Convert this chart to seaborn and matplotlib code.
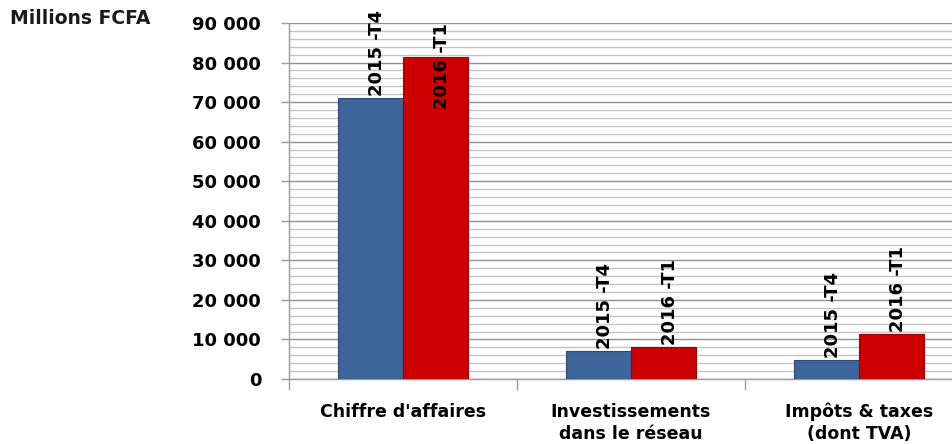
import pandas as pd
import numpy as np
import matplotlib
matplotlib.use("Agg")
import matplotlib.pyplot as plt
import seaborn as sns
from matplotlib.ticker import MultipleLocator, FuncFormatter

# Chart data (millions FCFA)
categories = ["Chiffre d'affaires", "Investissements\ndans le réseau", "Impôts & taxes\n(dont TVA)"]
periods = ["2015 -T4", "2016 -T1"]
values_2015_t4 = [71000, 7000, 4800]
values_2016_t1 = [81400, 8000, 11400]
y_ticks = [0, 10000, 20000, 30000, 40000, 50000, 60000, 70000, 80000, 90000]
unit_label = "Millions FCFA"

# long-form table for seaborn
df = pd.DataFrame({
    "categorie": categories * 2,
    "periode": [periods[0]] * 3 + [periods[1]] * 3,
    "valeur": values_2015_t4 + values_2016_t1,
})

sns.set_theme(style="white")
plt.rcParams["font.family"] = ["DejaVu Sans"]
plt.rcParams["text.color"] = "black"
plt.rcParams["xtick.labelcolor"] = "black"
plt.rcParams["ytick.labelcolor"] = "black"

fig = plt.figure(figsize=(9.52, 4.44), dpi=100)
ax = fig.add_axes([289 / 952, 65 / 444, 684 / 952, 356 / 444])

palette = {periods[0]: "#3D6599", periods[1]: "#CC0000"}
sns.barplot(data=df, x="categorie", y="valeur", hue="periode", order=categories,
            hue_order=periods, palette=palette, width=0.57, saturation=1,
            linewidth=0.8, edgecolor="#555555", legend=False, ax=ax, zorder=3)

# darker edges per series to hint the bevel
for bar in ax.patches:
    if bar.get_height() <= 0:
        continue
    fc = bar.get_facecolor()
    bar.set_edgecolor(tuple(c * 0.75 for c in fc[:3]))

ax.set_xlim(-0.5, 2.5)
ax.set_ylim(0, 90000)

# gridlines: major every 10 000, minor every 2 000
ax.yaxis.set_minor_locator(MultipleLocator(2000))
ax.set_yticks(y_ticks)
ax.yaxis.set_major_formatter(FuncFormatter(lambda v, p: f"{int(v):,}".replace(",", " ")))
ax.grid(axis="y", which="major", color="#8f8f8f", linewidth=1.0, zorder=0)
ax.grid(axis="y", which="minor", color="#c4c4c4", linewidth=1.0, zorder=0)
ax.set_axisbelow(True)

ax.tick_params(axis="y", which="major", length=6, width=1, color="#9a9a9a",
               labelsize=13, pad=14, left=True)
ax.tick_params(axis="y", which="minor", length=0)
for lab in ax.get_yticklabels():
    lab.set_fontweight("bold")

# category separators as major x ticks, labels as minor ticks
ax.set_xticks([-0.5, 0.5, 1.5, 2.5])
ax.set_xticklabels([])
ax.set_xticks([0, 1, 2], minor=True)
ax.set_xticklabels(categories, minor=True, fontsize=12.5, fontweight="bold",
                   multialignment="center", va="top", linespacing=1.3)
ax.tick_params(axis="x", which="major", length=8, width=1, color="#9a9a9a", bottom=True)
ax.tick_params(axis="x", which="minor", length=0, pad=17)

for side in ["top", "right"]:
    ax.spines[side].set_visible(False)
for side in ["left", "bottom"]:
    ax.spines[side].set_color("#9a9a9a")
    ax.spines[side].set_linewidth(1)

ax.set_xlabel("")
ax.set_ylabel("")

# rotated period labels above each bar
offset = 600
top = 90000
for container, period in zip(ax.containers, periods):
    for bar in container:
        x = bar.get_x() + bar.get_width() / 2
        h = bar.get_height()
        label_len = 20000  # approximate label length in data units
        if h + offset + label_len > top + 4000:
            ax.text(x + 0.03, top, period, rotation=90, ha="center", va="top",
                    fontsize=13, fontweight="bold", clip_on=False, zorder=5)
        else:
            ax.text(x + 0.03, h + offset, period, rotation=90, ha="center", va="bottom",
                    fontsize=13, fontweight="bold", clip_on=False, zorder=5)

fig.text(10 / 952, 1 - 19 / 444, unit_label, fontsize=13.5, fontweight="bold",
         ha="left", va="center", color="#1a1a1a")

fig.savefig("out.png", dpi=100)
plt.close(fig)
